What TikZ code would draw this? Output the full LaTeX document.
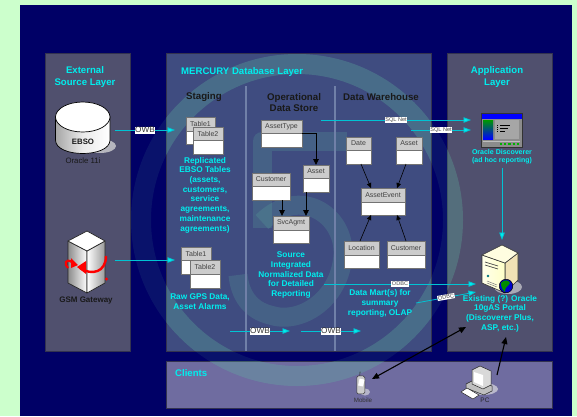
\documentclass[tikz,border=0pt]{standalone}
\usepackage{fontspec}
\setmainfont{Liberation Sans}
\usetikzlibrary{arrows.meta,calc}
\definecolor{pagegreen}{HTML}{CCFFCC}
\definecolor{navy}{HTML}{000066}
\definecolor{extpanel}{HTML}{50506E}
\definecolor{merpanel}{HTML}{3F4C80}
\definecolor{clipanel}{HTML}{6F6CA0}
\definecolor{panelline}{HTML}{33334F}
\definecolor{wm}{HTML}{60B8A0}
\definecolor{cyantext}{HTML}{00EEEE}
\definecolor{teal}{HTML}{00C4D4}
\definecolor{divider}{HTML}{7080A8}
\definecolor{headgrey}{HTML}{CCCCCC}
\tikzset{
  panel/.style={draw=panelline,line width=.6pt},
  layertitle/.style={text=cyantext,font=\bfseries\fontsize{9.6}{11.3}\selectfont,align=center,inner sep=0pt},
  cyannote/.style={text=cyantext,font=\bfseries\fontsize{8.3}{9.7}\selectfont,align=center,inner sep=0pt},
  smallcyan/.style={text=cyantext,font=\bfseries\fontsize{7}{8}\selectfont,align=center,inner sep=0pt},
  darkhead/.style={text=black!90,font=\bfseries\fontsize{9.7}{11.2}\selectfont,align=center,inner sep=0pt},
  tablebody/.style={draw=black!55,line width=.7pt,fill=white,inner sep=0pt,outer sep=0pt},
  tablehead/.style={draw=black!55,line width=.7pt,fill=headgrey,inner sep=0pt,outer sep=0pt,text=black!75,font=\fontsize{7}{8}\selectfont},
  flow/.style={draw=teal,line width=.8pt,-{Triangle[length=7.5pt,width=5.5pt,fill=cyantext]}},
  modelarrow/.style={draw=black,line width=.6pt,-{Triangle[length=5pt,width=4.5pt]}},
  modelthick/.style={draw=black,line width=.9pt,-{Triangle[length=6pt,width=5.5pt]}},
  clientarrow/.style={draw=black,line width=1.1pt,{Triangle[length=7pt,width=6pt]}-{Triangle[length=7pt,width=6pt]}},
  clientsingle/.style={draw=black,line width=1.1pt,-{Triangle[length=7pt,width=6pt]}},
  owbtag/.style={fill=white,text=black!80,inner sep=.6pt,font=\fontsize{8.2}{9}\selectfont},
  nettag/.style={fill=white,text=black!70,inner sep=.6pt,font=\fontsize{5.6}{6}\selectfont},
}
\newcommand\dbtable[7]{%
  \pgfmathsetmacro\tbw{#4-#2}\pgfmathsetmacro\tbh{#5-#3}\pgfmathsetmacro\thh{#6-#3}%
  \node[tablebody,minimum width=\tbw pt,minimum height=\tbh pt] (#1) at ({(#2+#4)/2},{(#3+#5)/2}) {};%
  \node[tablehead,minimum width=\tbw pt,minimum height=\thh pt] (#1h) at ({(#2+#4)/2},{(#3+#6)/2}) {#7};%
}
\begin{document}
\begin{tikzpicture}[x=1pt,y=-1pt]
\useasboundingbox (0,0) rectangle (577,416);
\fill[pagegreen] (0,0) rectangle (577,416);
\fill[navy] (20,5) rectangle (572,416);
% panels
\draw[panel,fill=extpanel] (45,53) rectangle (130,351);
\draw[panel,fill=merpanel] (166,53) rectangle (431,351);
\draw[panel,fill=extpanel] (447,53) rectangle (552,351);
\draw[panel,fill=clipanel] (166,361) rectangle (552,408);
% watermark: faint everywhere, stronger on the panels
\begin{scope}
\clip (20,5) rectangle (572,416);
\fill[wm,opacity=.10,even odd rule] (297,220) circle[radius=166] (297,220) circle[radius=146];
\end{scope}
\begin{scope}
\clip (166,53) rectangle (431,351) (447,53) rectangle (552,351) (166,361) rectangle (552,408);
\fill[wm,opacity=.22,even odd rule] (297,220) circle[radius=166] (297,220) circle[radius=146];
\draw[wm,opacity=.2,line width=19pt,line join=round] (347,141) -- (262,141) -- (262,228);
\draw[wm,opacity=.2,line width=19pt] (262,222) .. controls (300,185) and (345,215) .. (343,255) .. controls (340,300) and (300,325) .. (270,315) .. controls (250,310) and (240,295) .. (238,275);
\end{scope}
% dividers
\draw[divider,line width=1.2pt] (246,86) -- (246,351);
\draw[divider,line width=1.2pt] (335,86) -- (335,351);
% titles
\node[layertitle] (exttitle) at (85,77) {External\\Source Layer};
\node[layertitle,anchor=west] (mertitle) at (181,72) {MERCURY Database Layer};
\node[layertitle] (apptitle) at (497,77) {Application\\Layer};
\node[layertitle,anchor=west] (clititle) at (175,373) {Clients};
\node[darkhead] (staging) at (204,97) {Staging};
\node[darkhead] (ods) at (294,102.5) {Operational\\Data Store};
\node[darkhead] (dw) at (381,97) {Data Warehouse};
% EBSO cylinder
\fill[black!15,opacity=.75] (100,146) ellipse[x radius=16pt,y radius=7pt];
\shade[left color=black!35,right color=white,middle color=black!8,draw=black,line width=.7pt]
  (55.5,117) -- (55.5,140) .. controls (55.5,158) and (110,158) .. (110,140) -- (110,117) -- cycle;
\draw[black,line width=.7pt,fill=white] (82.75,117) ellipse[x radius=27.25pt,y radius=15pt];
\node[font=\bfseries\fontsize{7.8}{9}\selectfont,text=black!90,inner sep=0pt] (ebso) at (83,142) {EBSO};
\node[font=\fontsize{7.8}{9}\selectfont,text=black!90,inner sep=0pt] (oracle) at (83,161) {Oracle 11i};
\coordinate (ebsoout) at (115,130);
% GSM server
\begin{scope}[line join=round]
\shade[left color=black!45,right color=white,draw=black!85,line width=.7pt] (68,241) -- (87,251) -- (87,293) -- (68,283) -- cycle;
\shade[left color=white,right color=black!40,draw=black!85,line width=.7pt] (87,251) -- (105,241) -- (105,283) -- (87,293) -- cycle;
\draw[black!85,fill=white,line width=.7pt] (68,241) -- (87,231) -- (105,241) -- (87,251) -- cycle;
\end{scope}
\draw[red,line width=2.4pt] (106,256) .. controls (106,272) and (92,276) .. (80,268);
\fill[red] (77,267) -- (86,261) -- (86,274) -- cycle;
\draw[red,line width=2.2pt] (68,268) .. controls (64,264) and (65,258) .. (72,262);
\fill[red] (78,265) -- (71,258) -- (71,268) -- cycle;
\fill[red] (106.5,279) circle[radius=1.6pt];
\node[font=\bfseries\fontsize{8}{9}\selectfont,text=black!90,inner sep=0pt] (gsm) at (86,300.5) {GSM Gateway};
\coordinate (gsmout) at (115,260);
% staging tables
\dbtable{tonea}{186}{117}{215}{144}{131}{Table1}
\dbtable{ttwoa}{193}{127}{223}{154}{140}{Table2}
\dbtable{toneb}{181}{247}{211}{274}{260}{Table1}
\dbtable{ttwob}{190}{260}{220}{288}{274}{Table2}
% ODS tables
\dbtable{assettype}{261}{120}{302}{147}{133}{AssetType}
\dbtable{customer}{252}{173}{290}{200}{186}{Customer}
\dbtable{asset}{303}{165}{329}{192}{178}{Asset}
\dbtable{svcagmt}{273}{216}{309}{243}{230}{SvcAgmt}
% DW tables
\dbtable{date}{346}{137}{371}{164}{150}{Date}
\dbtable{dwasset}{396}{137}{422}{164}{150}{Asset}
\dbtable{assetevent}{361}{188}{405}{215}{202}{AssetEvent}
\dbtable{location}{344}{241}{379}{268}{255}{Location}
\dbtable{dwcustomer}{387}{241}{425}{268}{255}{Customer}
% model arrows
\draw[modelthick] (assettypeh.south east) -| (asset.north);
\draw[modelthick] ([xshift=11pt]customer.south) -- ([xshift=-9pt]svcagmt.north);
\draw[modelthick] ([xshift=-10pt]asset.south) -- ([xshift=15pt]svcagmt.north);
\draw[modelarrow] ([xshift=2.5pt]date.south) -- ([xshift=-12pt]assetevent.north);
\draw[modelarrow] ([xshift=-3pt]dwasset.south) -- ([xshift=14pt]assetevent.north);
\draw[modelarrow] ([xshift=-1.5pt]location.north) -- ([xshift=-12pt]assetevent.south);
\draw[modelarrow] (dwcustomer.north) -- ([xshift=14pt]assetevent.south);
% notes
\node[cyannote] (replnote) at (205,195) {Replicated\\EBSO Tables\\(assets,\\customers,\\service\\agreements,\\maintenance\\agreements)};
\node[cyannote] (rawnote) at (200,301.5) {Raw GPS Data,\\Asset Alarms};
\node[cyannote] (srcnote) at (291,275) {Source\\Integrated\\Normalized Data\\for Detailed\\Reporting};
\node[cyannote] (martnote) at (380,303.5) {Data Mart(s) for\\summary\\reporting, OLAP};
\node[cyannote] (portalnote) at (500,313.5) {Existing (?) Oracle\\10gAS Portal\\(Discoverer Plus,\\ASP, etc.)};
\node[smallcyan] (discnote) at (502,156.5) {Oracle Discoverer\\(ad hoc reporting)};
% Discoverer window
\node[draw=black!80,fill=black!45,line width=.7pt,minimum width=41pt,minimum height=34pt,inner sep=0pt,outer sep=0pt] (disc) at (501.5,130) {};
\fill[blue] (481.5,113.5) rectangle (521.5,118.5);
\shade[bottom color=blue,top color=green!60!black] (483,120) rectangle (493,139);
\fill[black!35] (495,120) rectangle (519,139);
\draw[black,line width=.7pt] (500,125) -- (510,125) (500,128) -- (508,128) (500,131) -- (505,131);
\draw[black,line width=.7pt,dash pattern=on 1pt off 1pt] (497,125) -- (497,132);
\draw[black!25,line width=.6pt] (483,141) -- (520,141);
\draw[green!70!black,line width=1.2pt,dash pattern=on 2.2pt off 2pt] (500,144) -- (519,144);
% Portal server
\fill[black!10,opacity=.6] (508,287) ellipse[x radius=14pt,y radius=7pt];
\begin{scope}[line join=round]
\draw[black!80,fill=yellow!35!brown!35,line width=.6pt] (505,263) -- (518,253) -- (518,280) -- (505,293) -- cycle;
\shade[left color=yellow!8,right color=yellow!22!white,draw=black!80,line width=.6pt] (482,255) -- (505,263) -- (505,293) -- (482,283) -- cycle;
\draw[black!80,fill=yellow!12,line width=.6pt] (482,255) -- (502,245) -- (518,253) -- (505,263) -- cycle;
\end{scope}
\draw[black!70,line width=.7pt] (485,262) -- (498,266) (485,265) -- (498,269);
\fill[teal!60!black] (488,276) circle[radius=1.3pt];
\draw[black!50,line width=.5pt] (487,281) -- (497,285) (487,283) -- (497,287);
\node[circle,minimum size=13.5pt,inner sep=0pt,draw=black,fill=blue!80!black,line width=.5pt] (globe) at (506,286) {};
\fill[green!55!black] (501,283) .. controls (504,279) and (509,280) .. (510,283) .. controls (508,287) and (505,286) .. (505,292) .. controls (502,290) and (501,286) .. (501,283) -- cycle;
% Mobile & PC
\fill[black!10,opacity=.6] (365,392) ellipse[x radius=5pt,y radius=3.5pt];
\begin{scope}[rotate around={-12:(361,384)}]
\node[draw=black!80,fill=black!20,rounded corners=1.5pt,minimum width=8pt,minimum height=18pt,inner sep=0pt,line width=.5pt] (phone) at (361,385) {};
\fill[white] (358.5,379) rectangle (363.5,386);
\draw[black!80,line width=.6pt] (358,376) -- (357.5,372);
\end{scope}
\node[font=\fontsize{6.2}{7}\selectfont,text=black!80,inner sep=0pt] (mobilelabel) at (363,400) {Mobile};
\fill[black!10,opacity=.65] (483,389) ellipse[x radius=15pt,y radius=6pt];
\begin{scope}[line join=round]
\draw[black!85,fill=black!25,line width=.5pt] (466,384) -- (474,380) -- (492,386) -- (492,391) -- (484,395) -- (466,388) -- cycle;
\draw[black!85,fill=black!15,line width=.5pt] (472,370) -- (480,366) -- (491,371) -- (491,385) -- (483,389) -- (472,384) -- cycle;
\fill[white] (474,372) -- (483,375) -- (483,386) -- (474,382) -- cycle;
\draw[black!85,fill=white,line width=.5pt] (461,392) -- (467,388) -- (479,395) -- (473,399) -- cycle;
\end{scope}
\node[font=\fontsize{6.5}{7}\selectfont,text=black!85,inner sep=0pt] (pclabel) at (485,400) {PC};
% flows
\coordinate (stageA) at (175,130);
\coordinate (stageB) at (175,260);
\draw[flow] (ebsoout) -- (stageA);
\node[owbtag] (owba) at (145,130) {OWB};
\draw[flow] (gsmout) -- (stageB);
\coordinate (sqlA) at (321,120);
\coordinate (sqlAe) at (471,120);
\coordinate (sqlB) at (411,130);
\coordinate (sqlBe) at (471,130);
\draw[flow] (sqlA) -- (sqlAe);
\node[nettag] (sqla) at (396,120) {SQL Net};
\draw[flow] (sqlB) -- (sqlBe);
\node[nettag] (sqlb) at (441,130) {SQL Net};
\coordinate (discdown) at (502,168);
\coordinate (portaltop) at (502,240);
\draw[flow] (discdown) -- (portaltop);
\coordinate (odA) at (324,284);
\coordinate (odAe) at (476,284);
\coordinate (odB) at (416,303);
\coordinate (odBe) at (476,292);
\draw[flow] (odA) -- (odAe);
\node[nettag] (odbca) at (400,284) {ODBC};
\draw[flow] (odB) -- (odBe);
\node[nettag,rotate=10] (odbcb) at (446,297) {ODBC};
\coordinate (owA) at (230,331);
\coordinate (owAe) at (290,331);
\coordinate (owB) at (301,331);
\coordinate (owBe) at (361,331);
\draw[flow] (owA) -- (owAe);
\node[owbtag] (owbb) at (260,331) {OWB};
\draw[flow] (owB) -- (owBe);
\node[owbtag] (owbc) at (331,331) {OWB};
% client arrows
\coordinate (mobileend) at (372,379);
\coordinate (portalleft) at (466,327);
\coordinate (pcend) at (497,375);
\coordinate (portalbot) at (506,337);
\draw[clientarrow] (mobileend) -- (portalleft);
\draw[clientsingle] (pcend) -- (portalbot);
\end{tikzpicture}
\end{document}
